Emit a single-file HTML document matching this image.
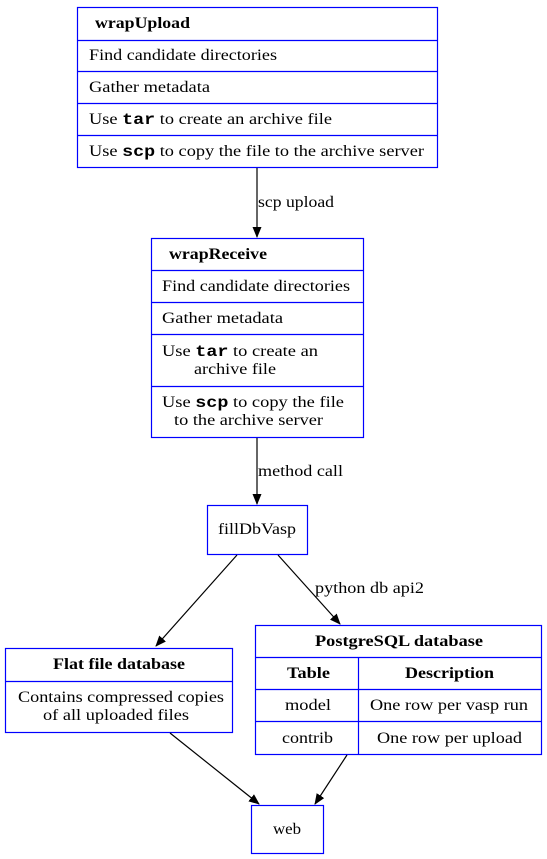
<!DOCTYPE html>
<html><head><meta charset="utf-8"><style>
html,body{margin:0;padding:0;background:#fff;}
svg{display:block;}
text{font-family:"Liberation Serif",serif;font-size:16px;fill:#000;}
.b{font-weight:bold;}
.m{font-family:"Liberation Mono",monospace;font-weight:bold;}
</style></head><body>
<svg width="547" height="859" viewBox="0 0 547 859" xmlns="http://www.w3.org/2000/svg">
<defs><marker id="a" markerWidth="11" markerHeight="9" refX="10" refY="4.5" orient="auto" markerUnits="userSpaceOnUse"><path d="M0,0 L11,4.5 L0,9 z" fill="#000"/></marker></defs>
<g fill="none" stroke="#0000ff" stroke-width="1.2">
<rect x="77.5" y="7.5" width="360" height="160" stroke="#0000ff"/>
<line x1="77" y1="40.5" x2="437" y2="40.5"/><line x1="77" y1="71.5" x2="437" y2="71.5"/>
<line x1="77" y1="103.5" x2="437" y2="103.5"/><line x1="77" y1="135.5" x2="437" y2="135.5"/>
<rect x="151.5" y="238.5" width="212" height="199" stroke="#0000ff"/>
<line x1="151" y1="270.5" x2="363" y2="270.5"/><line x1="151" y1="302.5" x2="363" y2="302.5"/>
<line x1="151" y1="334.5" x2="363" y2="334.5"/><line x1="151" y1="386.5" x2="363" y2="386.5"/>
<rect x="207.5" y="505.5" width="100" height="49" stroke="#0000ff"/>
<rect x="5.5" y="648.5" width="227" height="84" stroke="#0000ff"/><line x1="5" y1="681.5" x2="232" y2="681.5"/>
<rect x="255.5" y="625.5" width="286" height="129" stroke="#0000ff"/>
<line x1="255" y1="657.5" x2="541" y2="657.5"/><line x1="255" y1="689.5" x2="541" y2="689.5"/>
<line x1="255" y1="721.5" x2="541" y2="721.5"/><line x1="358.5" y1="657" x2="358.5" y2="754"/>
<rect x="251.5" y="805.5" width="72" height="48" stroke="#0000ff"/>
</g>
<g stroke="#000" stroke-width="1.2" fill="none">
<line x1="257" y1="168" x2="257" y2="237" marker-end="url(#a)"/>
<line x1="257" y1="438" x2="257" y2="504" marker-end="url(#a)"/>
<line x1="237" y1="555" x2="156" y2="646" marker-end="url(#a)"/>
<line x1="278" y1="555" x2="340" y2="624" marker-end="url(#a)"/>
<line x1="170" y1="733" x2="259" y2="804" marker-end="url(#a)"/>
<line x1="347" y1="755" x2="315" y2="804" marker-end="url(#a)"/>
</g>
<g>
<text x="95" y="28" class="b" textLength="95" lengthAdjust="spacingAndGlyphs">wrapUpload</text>
<text x="89" y="60" textLength="188" lengthAdjust="spacingAndGlyphs">Find candidate directories</text>
<text x="89" y="92" textLength="121" lengthAdjust="spacingAndGlyphs">Gather metadata</text>
<text x="89" y="124" textLength="243" lengthAdjust="spacingAndGlyphs">Use <tspan class="m">tar</tspan> to create an archive file</text>
<text x="89" y="156" textLength="335" lengthAdjust="spacingAndGlyphs">Use <tspan class="m">scp</tspan> to copy the file to the archive server</text>
<text x="258" y="207" textLength="76" lengthAdjust="spacingAndGlyphs">scp upload</text>
<text x="169" y="259" class="b" textLength="98" lengthAdjust="spacingAndGlyphs">wrapReceive</text>
<text x="162" y="291" textLength="188" lengthAdjust="spacingAndGlyphs">Find candidate directories</text>
<text x="162" y="323" textLength="121" lengthAdjust="spacingAndGlyphs">Gather metadata</text>
<text x="162" y="356" textLength="156" lengthAdjust="spacingAndGlyphs">Use <tspan class="m">tar</tspan> to create an</text>
<text x="194" y="374" textLength="82" lengthAdjust="spacingAndGlyphs">archive file</text>
<text x="162" y="407" textLength="182" lengthAdjust="spacingAndGlyphs">Use <tspan class="m">scp</tspan> to copy the file</text>
<text x="174" y="425" textLength="149" lengthAdjust="spacingAndGlyphs">to the archive server</text>
<text x="258" y="476" textLength="85" lengthAdjust="spacingAndGlyphs">method call</text>
<text x="218" y="534" textLength="78" lengthAdjust="spacingAndGlyphs">fillDbVasp</text>
<text x="315" y="593" textLength="109" lengthAdjust="spacingAndGlyphs">python db api2</text>
<text x="53" y="669" class="b" textLength="132" lengthAdjust="spacingAndGlyphs">Flat file database</text>
<text x="18" y="702" textLength="206" lengthAdjust="spacingAndGlyphs">Contains compressed copies</text>
<text x="43" y="720" textLength="146" lengthAdjust="spacingAndGlyphs">of all uploaded files</text>
<text x="315" y="646" class="b" textLength="168" lengthAdjust="spacingAndGlyphs">PostgreSQL database</text>
<text x="287" y="678" class="b" textLength="43" lengthAdjust="spacingAndGlyphs">Table</text>
<text x="405" y="678" class="b" textLength="89" lengthAdjust="spacingAndGlyphs">Description</text>
<text x="285" y="710" textLength="46" lengthAdjust="spacingAndGlyphs">model</text>
<text x="370" y="710" textLength="158" lengthAdjust="spacingAndGlyphs">One row per vasp run</text>
<text x="282" y="743" textLength="51" lengthAdjust="spacingAndGlyphs">contrib</text>
<text x="377" y="743" textLength="145" lengthAdjust="spacingAndGlyphs">One row per upload</text>
<text x="273" y="834" textLength="28" lengthAdjust="spacingAndGlyphs">web</text>
</g>
</svg>
</body></html>
